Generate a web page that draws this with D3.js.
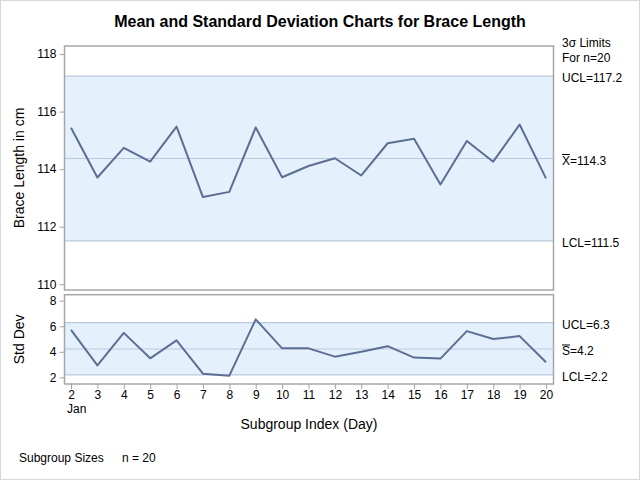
<!DOCTYPE html>
<html><head><meta charset="utf-8">
<script src="https://cdn.jsdelivr.net/npm/d3@7"></script>
<style>body{margin:0;background:#fff}svg{display:block}text{font-family:"Liberation Sans",Arial,sans-serif;fill:#000}</style>
</head><body>
<svg id="c" width="640" height="480"></svg>
<script>
const days = [2,3,4,5,6,7,8,9,10,11,12,13,14,15,16,17,18,19,20];
const means = [115.44,113.71,114.74,114.26,115.48,113.03,113.21,115.45,113.72,114.11,114.38,113.78,114.90,115.06,113.47,114.98,114.26,115.55,113.68];
const stds = [5.71,2.94,5.48,3.49,4.90,2.29,2.13,6.54,4.27,4.27,3.62,4.00,4.44,3.55,3.47,5.62,5.00,5.23,3.18];
const meanLimits = {lcl:111.51, center:114.37, ucl:117.23};
const stdLimits = {lcl:2.20, center:4.22, ucl:6.28};
const meanTicks = [110,112,114,116,118];
const stdTicks = [2,4,6,8];
const meanLabels = ["UCL=117.2","X|=114.3","LCL=111.5"];
const stdLabels = ["UCL=6.3","S|=4.2","LCL=2.2"];

const svg = d3.select("#c");
const L = 64.5, R = 553.5;
svg.append("rect").attr("x",0.5).attr("y",0.5).attr("width",639).attr("height",479)
  .attr("fill","none").attr("stroke","#d8d8d8");

svg.append("text").attr("x",320).attr("y",27).attr("text-anchor","middle")
  .style("font-weight","bold").style("font-size","16px")
  .text("Mean and Standard Deviation Charts for Brace Length");

const x = d3.scaleLinear().domain([2,20]).range([71,546]);

function panel(top, bottom, domain, vals, lim, ticks, labels, ylab){
  const y = d3.scaleLinear().domain(domain).range([bottom, top]);
  const g = svg.append("g");
  g.append("rect").attr("x",L).attr("y",y(lim.ucl)).attr("width",R-L)
   .attr("height",y(lim.lcl)-y(lim.ucl)).attr("fill","#e5f0fd");
  [lim.lcl, lim.center, lim.ucl].forEach(v=>{
    g.append("line").attr("x1",L).attr("x2",R).attr("y1",y(v)).attr("y2",y(v))
     .attr("stroke","#b9c9dd").attr("stroke-width",1.2);
  });
  g.append("path").datum(vals.map((v,i)=>[days[i],v]))
   .attr("d",d3.line().x(d=>x(d[0])).y(d=>y(d[1])))
   .attr("fill","none").attr("stroke","#5b6f92").attr("stroke-width",2)
   .attr("stroke-linejoin","round");
  g.append("rect").attr("x",L).attr("y",top).attr("width",R-L).attr("height",bottom-top)
   .attr("fill","none").attr("stroke","#a6a6a6").attr("stroke-width",1.5);
  const ax = g.append("g").attr("transform",`translate(${L},0)`)
   .call(d3.axisLeft(y).tickValues(ticks).tickSize(5).tickPadding(3).tickFormat(d3.format("d")));
  ax.select(".domain").remove();
  ax.selectAll("line").attr("stroke","#a6a6a6");
  ax.selectAll("text").style("font-size","12px").attr("fill","#222");
  g.append("text").attr("transform",`translate(24,${(top+bottom)/2}) rotate(-90)`)
   .attr("text-anchor","middle").style("font-size","14px").text(ylab);
  const vs = [lim.ucl, lim.center, lim.lcl];
  labels.forEach((s,i)=>{
    const over = s.indexOf("|")>=0;
    const t = g.append("text").attr("x",562).attr("y",y(vs[i])+6).style("font-size","12px");
    if(over){
      const parts = s.split("|");
      t.append("tspan").text(parts[0]);
      t.append("tspan").text(parts[1]);
      const w = t.node().getSubStringLength(0,1);
      const yy = y(vs[i])+6-10;
      g.append("line").attr("x1",562).attr("x2",562+w).attr("y1",yy).attr("y2",yy)
       .attr("stroke","#000").attr("stroke-width",1);
    } else t.text(s);
  });
  return y;
}

panel(46, 290, [109.8,118.28], means, meanLimits, meanTicks, meanLabels, "Brace Length in cm");
panel(294.7, 384, [1.48,8.47], stds, stdLimits, stdTicks, stdLabels, "Std Dev");

svg.append("text").attr("x",562).attr("y",47).style("font-size","12px").text("3σ Limits");
svg.append("text").attr("x",562).attr("y",62).style("font-size","12px").text("For n=20");

const xa = svg.append("g").attr("transform","translate(0,384)")
  .call(d3.axisBottom(x).tickValues(days).tickSize(5).tickPadding(1).tickFormat(d3.format("d")));
xa.select(".domain").remove();
xa.selectAll("line").attr("stroke","#a6a6a6");
xa.selectAll("text").style("font-size","12px").attr("fill","#222");
svg.append("text").attr("x",x(2)).attr("y",413).attr("text-anchor","start").attr("dx",-4)
  .style("font-size","12px").attr("fill","#222").text("Jan");
svg.append("text").attr("x",(L+R)/2).attr("y",429).attr("text-anchor","middle")
  .style("font-size","14px").text("Subgroup Index (Day)");
svg.append("text").attr("x",19).attr("y",462).style("font-size","12px").text("Subgroup Sizes");
svg.append("text").attr("x",122).attr("y",462).style("font-size","12px").text("n = 20");
</script>
</body></html>
